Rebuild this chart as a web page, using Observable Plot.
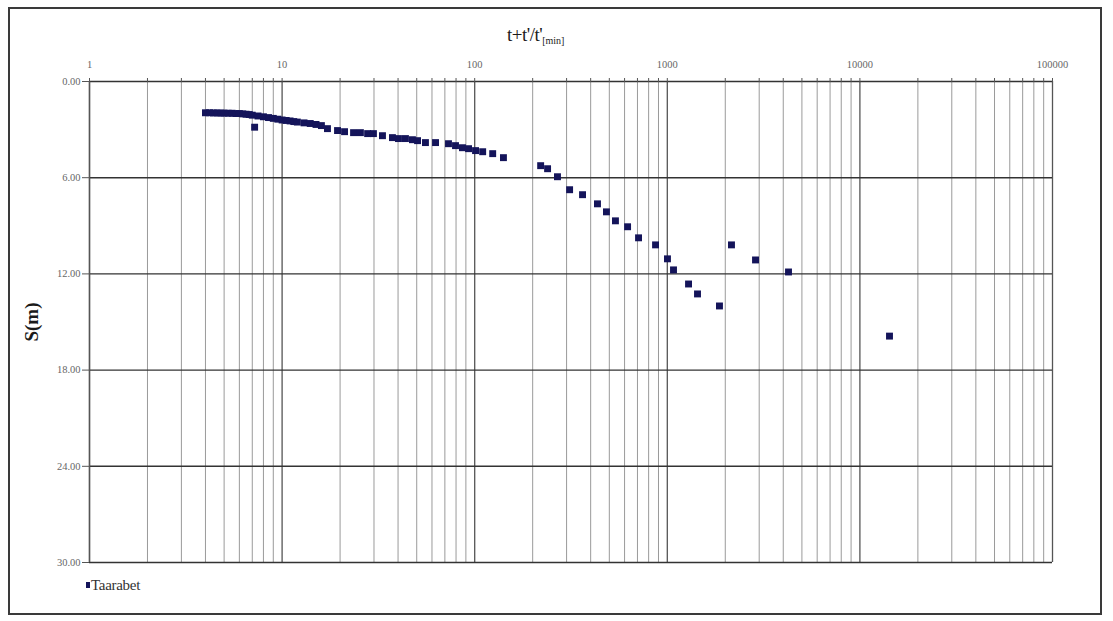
<!DOCTYPE html>
<html>
<head>
<meta charset="utf-8">
<script src="https://cdn.jsdelivr.net/npm/d3@7"></script>
<script src="https://cdn.jsdelivr.net/npm/@observablehq/plot@0.6"></script>
<style>
  html, body { margin: 0; padding: 0; background: #fff; }
  body { width: 1113px; height: 621px; position: relative; overflow: hidden; font-family: "Liberation Serif", "DejaVu Serif", serif; }
  #frame { position: absolute; left: 8px; top: 7px; width: 1094px; height: 608px; border: 2px solid #3a3a3a; box-sizing: border-box; pointer-events: none; }
  #chart { position: absolute; left: 0; top: 0; }
  #xtitle { position: absolute; left: 507px; top: 24px; font-size: 19px; color: #1a1a1a; letter-spacing: -0.5px; }
  #xtitle sub { font-size: 10px; vertical-align: -3px; letter-spacing: 0; }
  #ytitle { position: absolute; left: 32px; top: 322px; transform: translate(-50%, -50%) rotate(-90deg); font-size: 19px; font-weight: bold; color: #1a1a1a; white-space: nowrap; }
  #legend { position: absolute; left: 86px; top: 577px; font-size: 15px; color: #333; letter-spacing: -0.3px; }
  #legend .sw { display: inline-block; width: 4px; height: 6px; background: #14145a; margin-right: 1px; vertical-align: 2px; }
</style>
</head>
<body>
<div id="chart"></div>
<div id="xtitle">t+t'/t'<sub>[min]</sub></div>
<div id="ytitle">S(m)</div>
<div id="legend"><span class="sw"></span>Taarabet</div>
<div id="frame"></div>
<script>
// Time ratio t+t'/t' (min)
const tValues = [
  4.0, 4.2, 4.4, 4.6, 4.8, 5.0, 5.25, 5.5, 5.75, 6.0, 6.25, 6.5, 6.75, 7.0, 7.2, 7.5, 8.0, 8.5, 9.0, 9.5,
  10, 10.5, 11, 11.5, 12, 13, 14, 15, 16,
  17.2, 19.4, 21.1, 23.5, 25.5, 27.8, 29.8, 33.2, 37.4, 40.2, 43.7, 47.5, 50.5, 55.5, 62.6, 73.1, 79.5, 86.4, 92.9, 101, 110, 124, 141,
  220, 239, 269, 311, 363, 434, 483, 538, 622, 709, 869, 1002, 1077, 1289, 1435, 1866, 2154, 2871, 4259, 14245
];
// Residual drawdown S (m)
const sValues = [
  1.95, 1.95, 1.96, 1.96, 1.97, 1.97, 1.98, 1.98, 2.0, 2.0, 2.02, 2.04, 2.06, 2.1, 2.85, 2.15, 2.2, 2.25, 2.3, 2.35,
  2.4, 2.43, 2.46, 2.5, 2.53, 2.58, 2.62, 2.68, 2.75,
  2.94, 3.06, 3.13, 3.19, 3.19, 3.25, 3.25, 3.38, 3.5, 3.56, 3.56, 3.63, 3.69, 3.81, 3.81, 3.88, 4.0, 4.13, 4.19, 4.31, 4.38, 4.5, 4.75,
  5.25, 5.44, 5.94, 6.75, 7.06, 7.63, 8.13, 8.69, 9.06, 9.75, 10.19, 11.06, 11.75, 12.63, 13.25, 14.0, 10.19, 11.13, 11.88, 15.88
];
const majorTicks = [1, 10, 100, 1000, 10000, 100000];
const yTicks = [0, 6, 12, 18, 24, 30];
const seriesName = "Taarabet";

const minorTicks = [];
for (let d = 1; d < 100000; d *= 10) for (let k = 2; k <= 9; k++) minorTicks.push(d * k);
const allTicks = majorTicks.concat(minorTicks);
const data = tValues.map((t, i) => ({t, s: sValues[i], name: seriesName}));

const chart = Plot.plot({
  width: 1113,
  height: 621,
  marginLeft: 89,
  marginRight: 61,
  marginTop: 81,
  marginBottom: 59,
  style: {fontFamily: "Liberation Serif, serif", fontSize: "10.5px", color: "#666", background: "transparent"},
  x: {type: "log", domain: [1, 100000]},
  y: {domain: [0, 30], reverse: true},
  marks: [
    Plot.ruleX(minorTicks, {stroke: "#9a9a9a", strokeWidth: 1}),
    Plot.ruleX(majorTicks, {stroke: "#555", strokeWidth: 1.3}),
    Plot.ruleY([6, 12, 18, 24], {stroke: "#333", strokeWidth: 1.4}),
    Plot.ruleY([0, 30], {stroke: "#333", strokeWidth: 1.6}),
    Plot.ruleX([1], {stroke: "#555", strokeWidth: 1.4}),
    Plot.axisX({anchor: "top", ticks: allTicks, tickSize: 4, tickFormat: () => "", stroke: "#555", label: null}),
    Plot.axisX({anchor: "top", ticks: majorTicks, tickSize: 0, tickPadding: 14, tickFormat: d => String(d), fill: "#666", label: null}),
    Plot.axisY({anchor: "left", ticks: yTicks, tickSize: 7, tickPadding: 2, tickFormat: d3.format(".2f"), fill: "#666", stroke: "#555", label: null}),
    Plot.dot(data, {x: "t", y: "s", symbol: "square", r: 3.9, fill: "#14145a", stroke: "none"})
  ]
});
document.getElementById("chart").appendChild(chart);
</script>
</body>
</html>
